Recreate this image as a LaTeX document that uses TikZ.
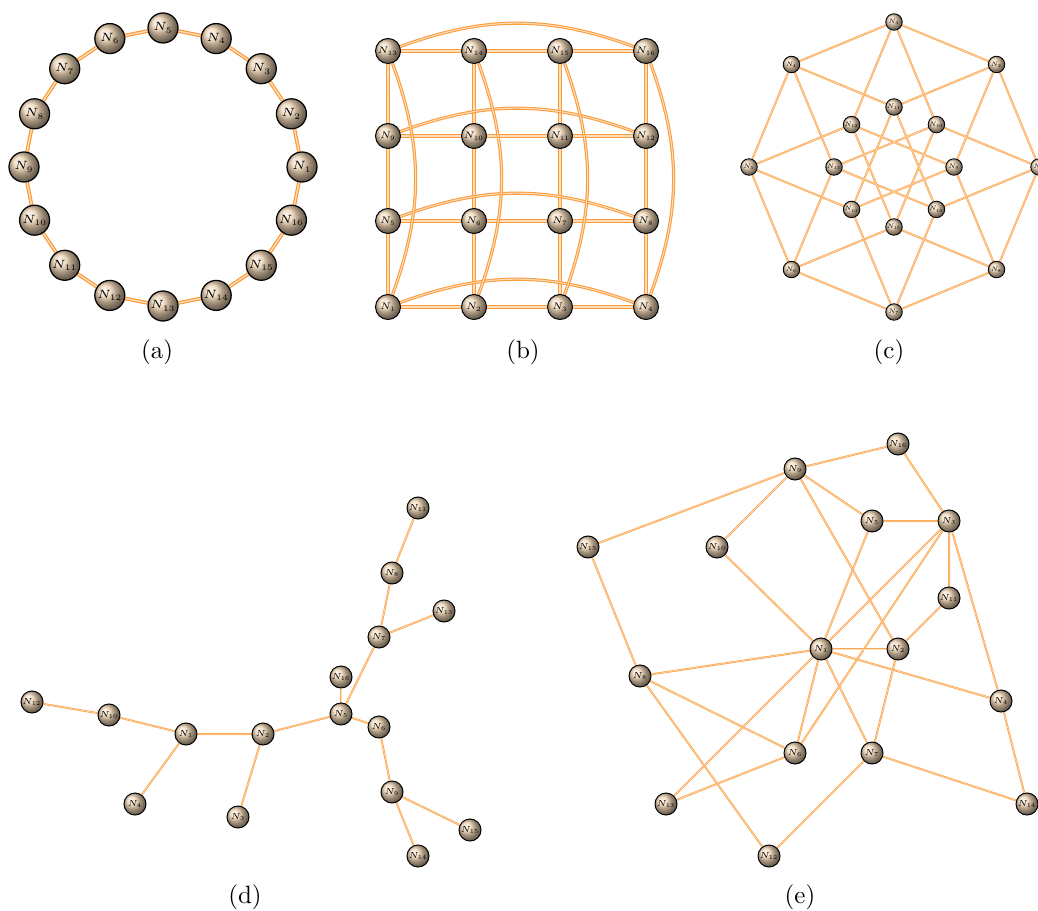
\RequirePackage{fix-cm}
\documentclass[tikz,border=0pt]{standalone}
\usepackage{tikz}
\usetikzlibrary{backgrounds}

\definecolor{linkorange}{RGB}{250,150,50}
\definecolor{linklight}{RGB}{255,222,185}
\definecolor{balltan}{RGB}{238,212,180}

\begin{document}
\begin{tikzpicture}[
      x=0.4pt, y=0.4pt,
      ball/.style     = {circle, draw=black, line width=0.4pt,
                         shading=ball, ball color=balltan, inner sep=0pt},
      ringball/.style = {ball, minimum size=12pt, line width=0.5pt,
                         font=\fontsize{4.8}{4.8}\selectfont},
      gridball/.style = {ball, minimum size=10pt,
                         font=\fontsize{3.8}{3.8}\selectfont},
      cubeball/.style = {ball, minimum size=6.6pt, line width=0.35pt,
                         font=\fontsize{2.6}{2.6}\selectfont},
      treeball/.style = {ball, minimum size=8.8pt,
                         font=\fontsize{3.5}{3.5}\selectfont},
      ringlink/.style = {draw=linkorange, double=linklight,
                         line width=0.45pt, double distance=0.55pt},
      gridlink/.style = {draw=linkorange!95!white, double=linklight,
                         line width=0.42pt, double distance=0.42pt},
      link/.style     = {draw=linkorange!85!white, double=linklight,
                         line width=0.3pt, double distance=0.2pt},
      caption/.style  = {font=\normalsize}
    ]
    \useasboundingbox (0,0) rectangle (1038,-911);

    % (a) ring
    \begin{scope}[shift={(163,-167)}]
    \node[ringball] (a1)  at (0:139)     {$N_{1}$};
    \node[ringball] (a2)  at (22.5:139)  {$N_{2}$};
    \node[ringball] (a3)  at (45:139)    {$N_{3}$};
    \node[ringball] (a4)  at (67.5:139)  {$N_{4}$};
    \node[ringball] (a5)  at (90:139)    {$N_{5}$};
    \node[ringball] (a6)  at (112.5:139) {$N_{6}$};
    \node[ringball] (a7)  at (135:139)   {$N_{7}$};
    \node[ringball] (a8)  at (157.5:139) {$N_{8}$};
    \node[ringball] (a9)  at (180:139)   {$N_{9}$};
    \node[ringball] (a10) at (202.5:139) {$N_{10}$};
    \node[ringball] (a11) at (225:139)   {$N_{11}$};
    \node[ringball] (a12) at (247.5:139) {$N_{12}$};
    \node[ringball] (a13) at (270:139)   {$N_{13}$};
    \node[ringball] (a14) at (292.5:139) {$N_{14}$};
    \node[ringball] (a15) at (315:139)   {$N_{15}$};
    \node[ringball] (a16) at (337.5:139) {$N_{16}$};
    \end{scope}
    \node[caption] (capa) at (157,-352) {(a)};

    % (b) torus grid
    \node[gridball] (b1)  at (388,-307) {$N_{1}$};
    \node[gridball] (b2)  at (474,-307) {$N_{2}$};
    \node[gridball] (b3)  at (560,-307) {$N_{3}$};
    \node[gridball] (b4)  at (646,-307) {$N_{4}$};
    \node[gridball] (b5)  at (388,-221) {$N_{5}$};
    \node[gridball] (b6)  at (474,-221) {$N_{6}$};
    \node[gridball] (b7)  at (560,-221) {$N_{7}$};
    \node[gridball] (b8)  at (646,-221) {$N_{8}$};
    \node[gridball] (b9)  at (388,-136) {$N_{9}$};
    \node[gridball] (b10) at (474,-136) {$N_{10}$};
    \node[gridball] (b11) at (560,-136) {$N_{11}$};
    \node[gridball] (b12) at (646,-136) {$N_{12}$};
    \node[gridball] (b13) at (388,-51)  {$N_{13}$};
    \node[gridball] (b14) at (474,-51)  {$N_{14}$};
    \node[gridball] (b15) at (560,-51)  {$N_{15}$};
    \node[gridball] (b16) at (646,-51)  {$N_{16}$};
    \node[caption] (capb) at (523,-352) {(b)};

    % (c) hypercube
    \begin{scope}[shift={(894,-167)}]
    \node[cubeball] (c1)  at (0:145)   {$N_{1}$};
    \node[cubeball] (c2)  at (45:145)  {$N_{2}$};
    \node[cubeball] (c3)  at (90:145)  {$N_{3}$};
    \node[cubeball] (c4)  at (135:145) {$N_{4}$};
    \node[cubeball] (c5)  at (180:145) {$N_{5}$};
    \node[cubeball] (c6)  at (225:145) {$N_{6}$};
    \node[cubeball] (c7)  at (270:145) {$N_{7}$};
    \node[cubeball] (c8)  at (315:145) {$N_{8}$};
    \node[cubeball] (c9)  at (0:60)    {$N_{9}$};
    \node[cubeball] (c10) at (45:60)   {$N_{10}$};
    \node[cubeball] (c11) at (90:60)   {$N_{11}$};
    \node[cubeball] (c12) at (135:60)  {$N_{12}$};
    \node[cubeball] (c13) at (180:60)  {$N_{13}$};
    \node[cubeball] (c14) at (225:60)  {$N_{14}$};
    \node[cubeball] (c15) at (270:60)  {$N_{15}$};
    \node[cubeball] (c16) at (315:60)  {$N_{16}$};
    \end{scope}
    \node[caption] (capc) at (889,-352) {(c)};

    % (d) tree
    \node[treeball] (d1)  at (186,-734) {$N_{1}$};
    \node[treeball] (d2)  at (263,-734) {$N_{2}$};
    \node[treeball] (d3)  at (238,-817) {$N_{3}$};
    \node[treeball] (d4)  at (135,-804) {$N_{4}$};
    \node[treeball] (d5)  at (341,-714) {$N_{5}$};
    \node[treeball] (d6)  at (379,-727) {$N_{6}$};
    \node[treeball] (d7)  at (379,-637) {$N_{7}$};
    \node[treeball] (d8)  at (392,-573) {$N_{8}$};
    \node[treeball] (d9)  at (392,-792) {$N_{9}$};
    \node[treeball] (d10) at (109,-715) {$N_{10}$};
    \node[treeball] (d11) at (418,-508) {$N_{11}$};
    \node[treeball] (d12) at (32,-702)  {$N_{12}$};
    \node[treeball] (d13) at (444,-611) {$N_{13}$};
    \node[treeball] (d14) at (418,-856) {$N_{14}$};
    \node[treeball] (d15) at (470,-830) {$N_{15}$};
    \node[treeball] (d16) at (341,-677) {$N_{16}$};
    \node[caption] (capd) at (245,-897) {(d)};

    % (e) random graph
    \node[treeball] (e1)  at (821,-649)  {$N_{1}$};
    \node[treeball] (e2)  at (898,-649)  {$N_{2}$};
    \node[treeball] (e3)  at (949,-521)  {$N_{3}$};
    \node[treeball] (e4)  at (1001,-701) {$N_{4}$};
    \node[treeball] (e5)  at (872,-521)  {$N_{5}$};
    \node[treeball] (e6)  at (795,-753)  {$N_{6}$};
    \node[treeball] (e7)  at (872,-753)  {$N_{7}$};
    \node[treeball] (e8)  at (640,-676)  {$N_{8}$};
    \node[treeball] (e9)  at (795,-469)  {$N_{9}$};
    \node[treeball] (e10) at (717,-547)  {$N_{10}$};
    \node[treeball] (e11) at (949,-598)  {$N_{11}$};
    \node[treeball] (e12) at (769,-856)  {$N_{12}$};
    \node[treeball] (e13) at (666,-804)  {$N_{13}$};
    \node[treeball] (e14) at (1027,-804) {$N_{14}$};
    \node[treeball] (e15) at (588,-547)  {$N_{15}$};
    \node[treeball] (e16) at (898,-444)  {$N_{16}$};
    \node[caption] (cape) at (800,-897) {(e)};

    \begin{scope}[on background layer]
    % ring links
    \draw[ringlink] (a1) -- (a2) -- (a3) -- (a4) -- (a5) -- (a6) -- (a7) -- (a8)
                    -- (a9) -- (a10) -- (a11) -- (a12) -- (a13) -- (a14) -- (a15)
                    -- (a16) -- (a1);

    % grid links, then wrap-around
    \draw[gridlink] (b1) -- (b2) -- (b3) -- (b4);
    \draw[gridlink] (b5) -- (b6) -- (b7) -- (b8);
    \draw[gridlink] (b9) -- (b10) -- (b11) -- (b12);
    \draw[gridlink] (b13) -- (b14) -- (b15) -- (b16);
    \draw[gridlink] (b1) -- (b5) -- (b9) -- (b13);
    \draw[gridlink] (b2) -- (b6) -- (b10) -- (b14);
    \draw[gridlink] (b3) -- (b7) -- (b11) -- (b15);
    \draw[gridlink] (b4) -- (b8) -- (b12) -- (b16);
    \draw[gridlink] (b1)  to[bend left=20]  (b4);
    \draw[gridlink] (b5)  to[bend left=20]  (b8);
    \draw[gridlink] (b9)  to[bend left=20]  (b12);
    \draw[gridlink] (b13) to[bend left=20]  (b16);
    \draw[gridlink] (b1)  to[bend right=20] (b13);
    \draw[gridlink] (b2)  to[bend right=20] (b14);
    \draw[gridlink] (b3)  to[bend right=20] (b15);
    \draw[gridlink] (b4)  to[bend right=20] (b16);

    % hypercube links
    \draw[link] (c1) -- (c2) -- (c3) -- (c4) -- (c5) -- (c6) -- (c7) -- (c8) -- (c1);
    \draw[link] (c16) -- (c1) -- (c10);
    \draw[link] (c9)  -- (c2) -- (c11);
    \draw[link] (c10) -- (c3) -- (c12);
    \draw[link] (c11) -- (c4) -- (c13);
    \draw[link] (c12) -- (c5) -- (c14);
    \draw[link] (c13) -- (c6) -- (c15);
    \draw[link] (c14) -- (c7) -- (c16);
    \draw[link] (c15) -- (c8) -- (c9);
    \draw[link] (c9) -- (c12) -- (c15) -- (c10) -- (c13) -- (c16) -- (c11) -- (c14) -- (c9);

    % tree links
    \draw[link] (d12) -- (d10) -- (d1) -- (d2) -- (d5) -- (d7) -- (d8) -- (d11);
    \draw[link] (d1) -- (d4);
    \draw[link] (d2) -- (d3);
    \draw[link] (d5) -- (d16);
    \draw[link] (d7) -- (d13);
    \draw[link] (d5) -- (d6) -- (d9) -- (d15);
    \draw[link] (d9) -- (d14);

    % random graph links
    \draw[link] (e15) -- (e9) -- (e16) -- (e3) -- (e5) -- (e9);
    \draw[link] (e9) -- (e10) -- (e1);
    \draw[link] (e9) -- (e2);
    \draw[link] (e3) -- (e11) -- (e2);
    \draw[link] (e3) -- (e4) -- (e14) -- (e7) -- (e12) -- (e8) -- (e15);
    \draw[link] (e3) -- (e1);
    \draw[link] (e3) -- (e6);
    \draw[link] (e5) -- (e1);
    \draw[link] (e1) -- (e2);
    \draw[link] (e1) -- (e8);
    \draw[link] (e1) -- (e4);
    \draw[link] (e1) -- (e6);
    \draw[link] (e1) -- (e7);
    \draw[link] (e1) -- (e13);
    \draw[link] (e2) -- (e7);
    \draw[link] (e8) -- (e6) -- (e13);
    \end{scope}
  \end{tikzpicture}
\end{document}
